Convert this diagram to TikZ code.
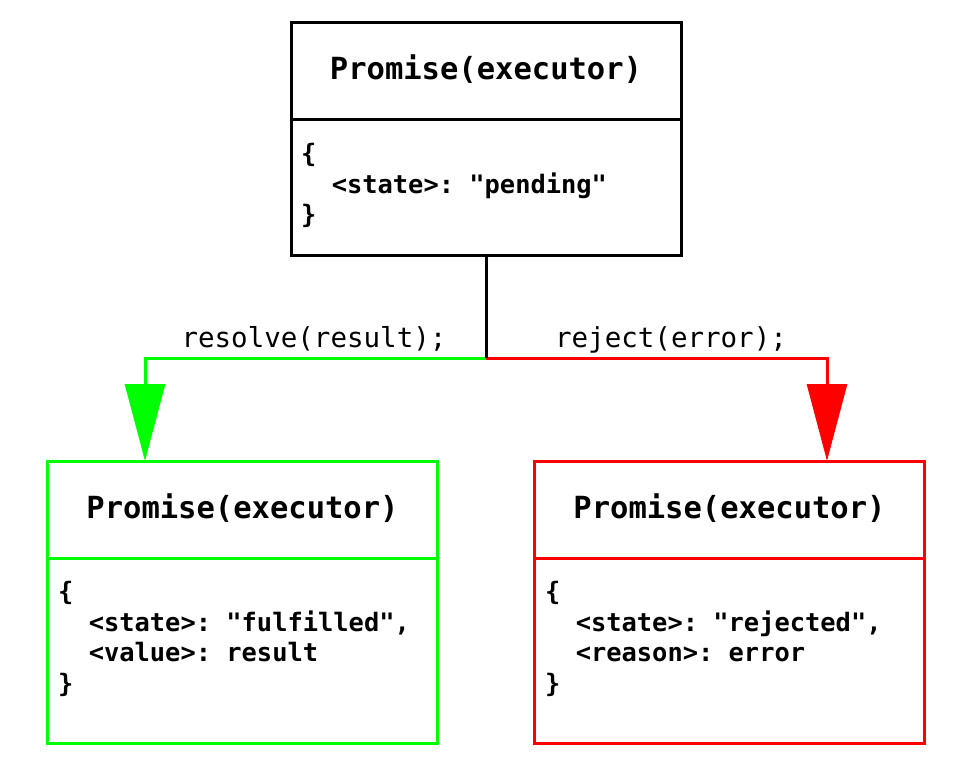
\documentclass[tikz,border=0pt]{standalone}
\usepackage{fontspec}
\setmonofont{DejaVu Sans Mono}
\usetikzlibrary{arrows.meta,calc}
\definecolor{pgreen}{RGB}{0,255,0}
\definecolor{pred}{RGB}{255,0,0}
\begin{document}
\begin{tikzpicture}[x=1pt,y=-1pt,
  box/.style={draw=#1,line width=3pt,rectangle,outer sep=0pt,inner sep=0pt,minimum width=390pt},
  divider/.style={draw=#1,line width=3pt},
  title/.style={font=\ttfamily\bfseries\fontsize{30.5}{36}\selectfont,anchor=base,inner sep=0pt},
  body/.style={font=\ttfamily\bfseries\fontsize{25.4}{30.5}\selectfont,align=left,anchor=base west,inner sep=0pt},
  lbl/.style={font=\ttfamily\fontsize{27.5}{30}\selectfont,anchor=base,inner sep=0pt},
  conn/.style={line width=3pt,draw=#1},
  tip/.style={-{Triangle[length=77pt,width=40pt]}}
]
\useasboundingbox (0,0) rectangle (973,783);
\fill[white] (0,0) rectangle (973,783);
% top box
\node[box=black,minimum height=233pt] (top) at (486,139.5) {};
\draw[divider=black] (top.west |- 0,120) -- (top.east |- 0,120);
\node[title] (toptitle) at (486,80) {Promise(executor)};
\node[body] (topbody) at (301,224) {\{\\\hspace*{1.204em}<state>: "pending"\\\}};
% left box
\node[box=pgreen,minimum height=282pt] (left) at (242.5,602) {};
\draw[divider=pgreen] (left.west |- 0,558) -- (left.east |- 0,558);
\node[title] (lefttitle) at (242.5,518) {Promise(executor)};
\node[body] (leftbody) at (58,692) {\{\\\hspace*{1.204em}<state>: "fulfilled",\\\hspace*{1.204em}<value>: result\\\}};
% right box
\node[box=pred,minimum height=282pt] (right) at (729.5,602) {};
\draw[divider=pred] (right.west |- 0,558) -- (right.east |- 0,558);
\node[title] (righttitle) at (729.5,518) {Promise(executor)};
\node[body] (rightbody) at (545,692) {\{\\\hspace*{1.204em}<state>: "rejected",\\\hspace*{1.204em}<reason>: error\\\}};
% connectors
\coordinate (split) at (486,358);
\coordinate (lefttarget) at ($(left.north west)!0.25!(left.north east)$);
\coordinate (righttarget) at ($(right.north west)!0.75!(right.north east)$);
\draw[conn=pgreen,tip] (split) -| (lefttarget);
\draw[conn=pred,tip] (split) -| (righttarget);
\draw[conn=black] (top.south) -- (split);
\node[lbl] (resolvelbl) at (314,347) {resolve(result);};
\node[lbl] (rejectlbl) at (671,347) {reject(error);};
\end{tikzpicture}
\end{document}
